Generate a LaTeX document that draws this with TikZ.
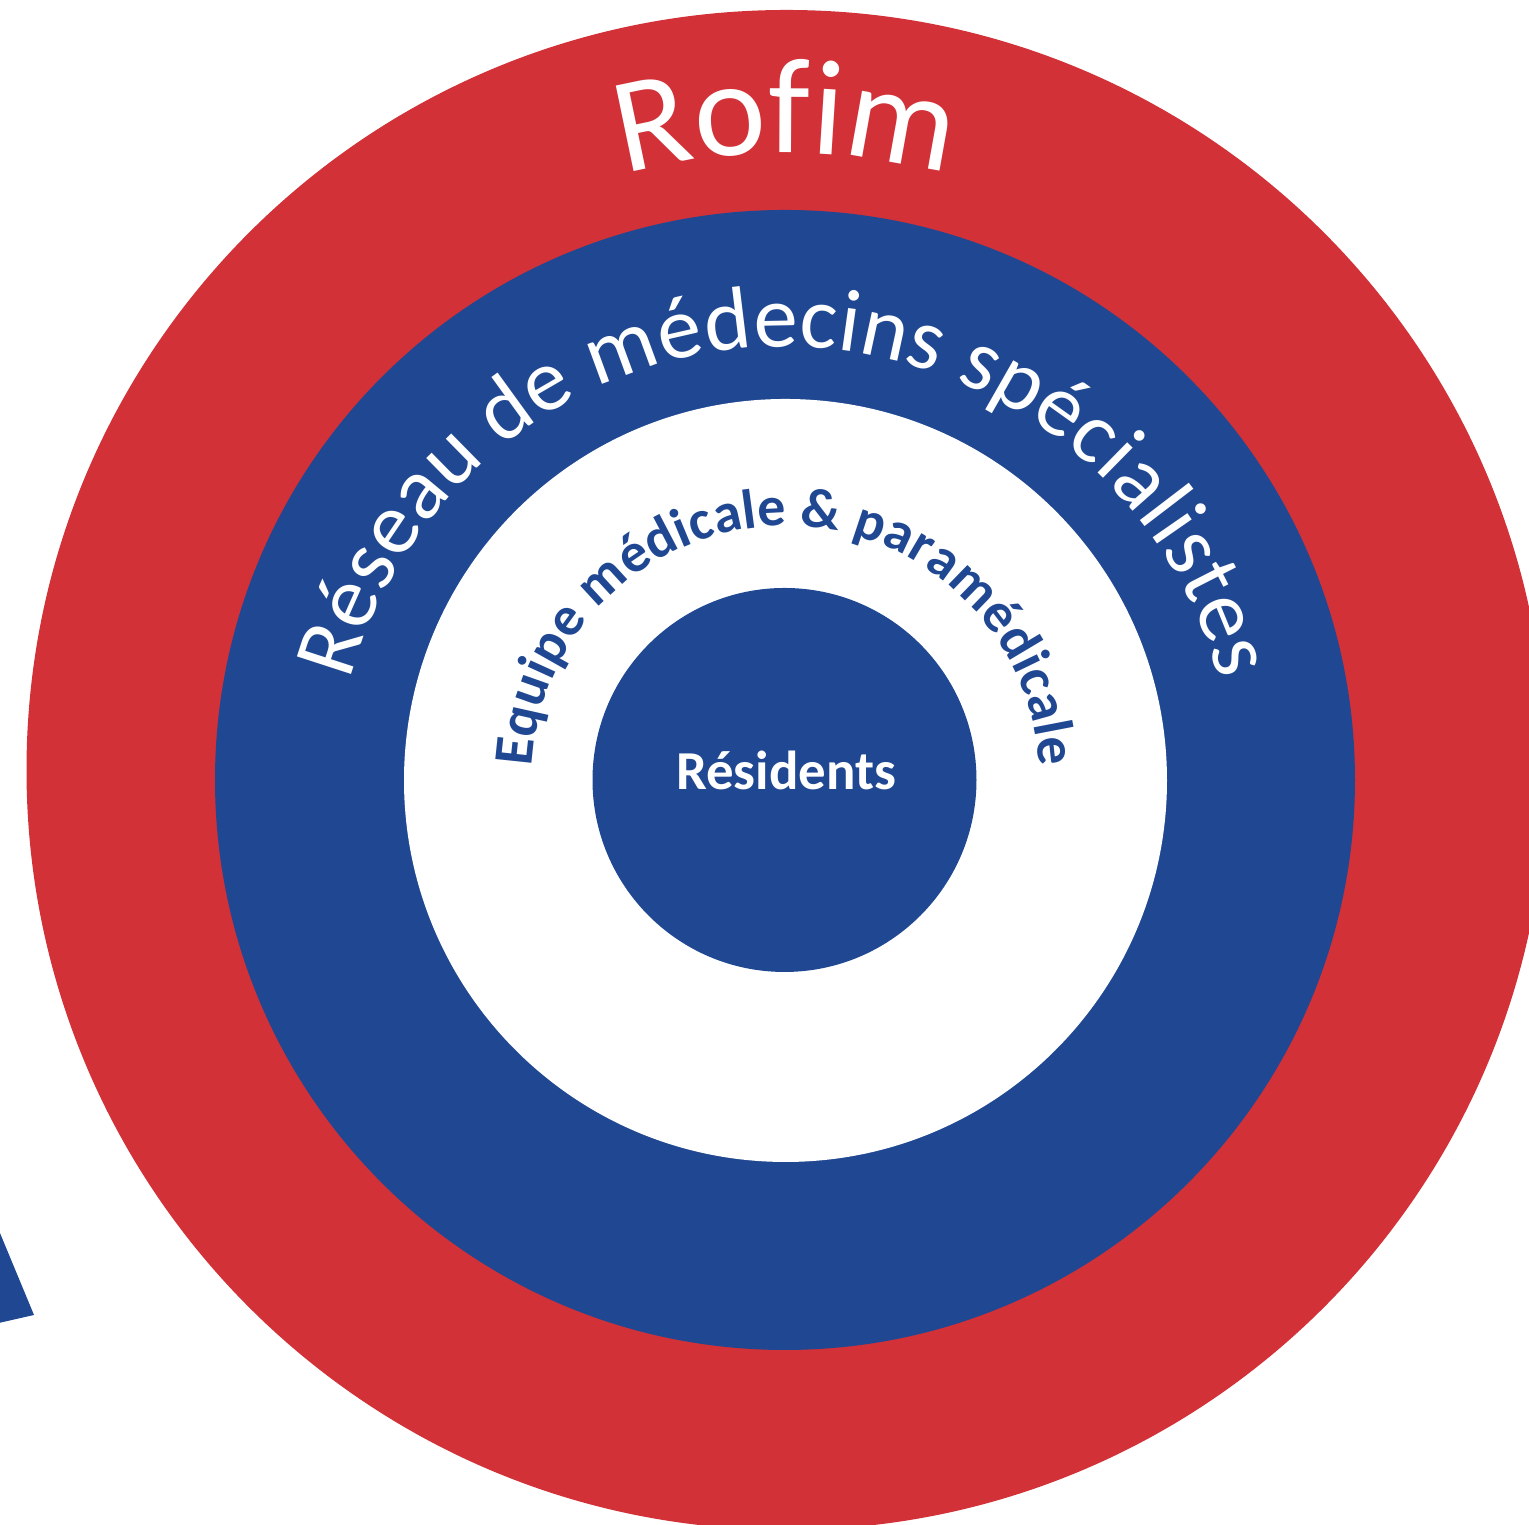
\documentclass[tikz,border=0pt]{standalone}
\usepackage{fontspec}
\setmainfont{Carlito}
\usetikzlibrary{decorations.text}
\definecolor{rofimred}{RGB}{210,49,55}
\definecolor{rofimblue}{RGB}{32,72,146}
\newcommand{\rofimfont}{\fontsize{38.7}{40}\selectfont}
\newcommand{\reseaufont}{\fontsize{25.2}{27}\selectfont}
\newcommand{\equipefont}{\fontsize{15.9}{17}\selectfont\bfseries}
\begin{document}
\begin{tikzpicture}[x=0.01cm, y=0.01cm,
	ringtext/.style={decorate, decoration={text along path}}]
	\useasboundingbox (0,0) rectangle (1529,1525);
	\clip (0,0) rectangle (1529,1525);
	% rings
	\fill[rofimred]    	(786.5,755) circle[radius=760];
	\fill[rofimblue]   	(785,745) circle[radius=570];
	\fill[white]       	(785.5,744.5) circle[radius=381.5];
	\fill[rofimblue]   	(784.5,745) circle[radius=192];
	\fill[rofimblue]   	(-10,316) -- (34,210) -- (-10,200) -- cycle;
	% texts on the rings
	\path[ringtext, decoration={text color=white, text align=center, text={|\rofimfont|Rofim}}, shift={(786.5,755)}]
		(120:617) arc[start angle=120, end angle=60, radius=617];
	\path[ringtext, decoration={text color=white, text align={fit to path}, text={|\reseaufont|Réseau de médecins spécialistes}}, shift={(785,728)}]
		(165:450) arc[start angle=165, end angle=15, radius=450];
	\path[ringtext, decoration={text color=rofimblue, text align={fit to path}, text={|\equipefont|Equipe médicale {\&} paramédicale}}, shift={(785.5,745)}]
		(177:254) arc[start angle=177, end angle=3, radius=254];
	\node[text=white, font=\bfseries\fontsize{15.6}{17}\selectfont, anchor=base] (res) at (786,735) {Résidents};
\end{tikzpicture}
\end{document}
